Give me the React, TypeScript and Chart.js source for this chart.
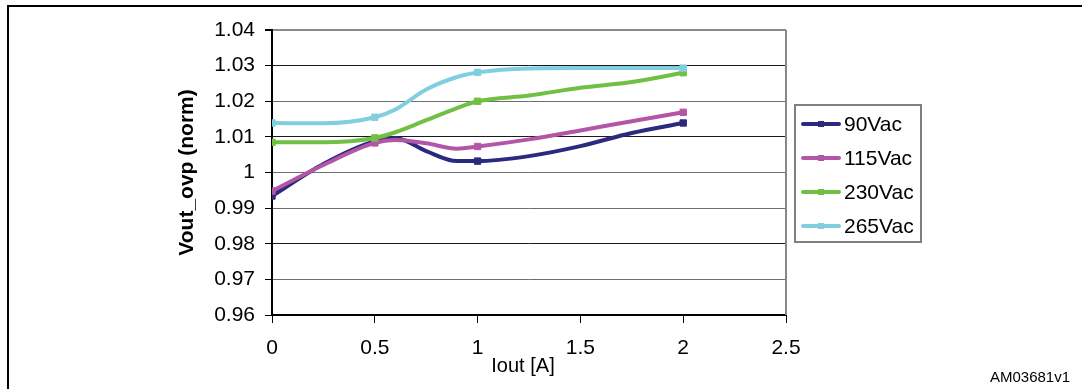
import { useEffect, useRef } from "react";
import { Chart, registerables } from "chart.js";

Chart.register(...registerables);

// ---- data ----
const currents = [0, 0.25, 0.5, 0.6, 0.75, 0.9, 1, 1.25, 1.5, 1.75, 2];
const markerCurrents = [0, 0.5, 1, 2];
const seriesNames = ["90Vac", "115Vac", "230Vac", "265Vac"];
const vac90 = [0.9934, 1.0024, 1.0088, 1.0097, 1.006, 1.0032, 1.0032, 1.0046, 1.0074, 1.0111, 1.0139];
const vac115 = [0.9948, 1.0021, 1.0083, 1.0091, 1.0082, 1.0067, 1.0073, 1.0093, 1.0118, 1.0144, 1.0169];
const vac230 = [1.0085, 1.0085, 1.0097, 1.0113, 1.0147, 1.0181, 1.02, 1.0216, 1.0238, 1.0254, 1.028];
const vac265 = [1.0139, 1.0138, 1.0155, 1.0177, 1.0233, 1.0268, 1.0281, 1.0292, 1.0293, 1.0293, 1.0293];
const seriesValues = [vac90, vac115, vac230, vac265];
const seriesColors = ["#2b2a7e", "#b456a8", "#72bf45", "#80cee0"];
const yMin = 0.96;
const yMax = 1.04;
const yStep = 0.01;
const xMin = 0;
const xMax = 2.5;
const xStep = 0.5;
const yTitle = "Vout_ovp (norm)";
const xTitle = "Iout [A]";
const figureId = "AM03681v1";

const FONT = "'Liberation Sans', Arial, Helvetica, sans-serif";

const darkGridValues = [1.03, 1.01, 0.98];

const extrasPlugin = {
  id: "extras",
  afterDraw(chart: any) {
    const { ctx, chartArea } = chart;
    ctx.save();
    // right border of plot
    ctx.strokeStyle = "#888888";
    ctx.lineWidth = 2;
    ctx.beginPath();
    ctx.moveTo(chartArea.right, chartArea.top);
    ctx.lineTo(chartArea.right, chartArea.bottom);
    ctx.stroke();

    // legend box
    const left = chartArea.right + 9;
    const top = chartArea.top + 75;
    const w = 126;
    const h = 137;
    ctx.strokeStyle = "#808080";
    ctx.lineWidth = 2;
    ctx.strokeRect(left, top, w, h);
    chart.data.datasets.forEach((ds: any, i: number) => {
      const y = top + 19 + i * 34;
      ctx.strokeStyle = ds.borderColor;
      ctx.lineWidth = 4;
      ctx.lineCap = "round";
      ctx.beginPath();
      ctx.moveTo(left + 8, y);
      ctx.lineTo(left + 44, y);
      ctx.stroke();
      ctx.fillStyle = ds.borderColor;
      ctx.fillRect(left + 23, y - 3, 6, 6);
      ctx.fillStyle = "#000";
      ctx.font = `21px ${FONT}`;
      ctx.textAlign = "left";
      ctx.textBaseline = "middle";
      ctx.fillText(ds.label, left + 49, y + 1);
    });

    // x axis title
    ctx.fillStyle = "#000";
    ctx.font = `20px ${FONT}`;
    ctx.textAlign = "center";
    ctx.textBaseline = "middle";
    ctx.fillText(xTitle, 523, 366);

    // figure id
    ctx.font = `15px ${FONT}`;
    ctx.textAlign = "right";
    ctx.fillText(figureId, 1070, 378);
    ctx.restore();
  },
};

export default function App() {
  const canvasRef = useRef<HTMLCanvasElement | null>(null);

  useEffect(() => {
    const canvas = canvasRef.current;
    if (!canvas) return;
    const datasets = seriesNames.map((name, i) => ({
      label: name,
      data: currents.map((x, j) => ({ x, y: seriesValues[i][j] })),
      borderColor: seriesColors[i],
      backgroundColor: seriesColors[i],
      borderWidth: 4,
      cubicInterpolationMode: "monotone" as const,
      pointStyle: "rect" as const,
      pointRadius: (c: any) => (c.raw && markerCurrents.includes(c.raw.x) ? 4.5 : 0),
      pointBorderWidth: 1,
      pointHoverRadius: 0,
      order: seriesNames.length - 1 - i,
    }));

    const chart = new Chart(canvas, {
      type: "line",
      data: { datasets },
      plugins: [extrasPlugin],
      options: {
        animation: false,
        responsive: false,
        events: [],
        layout: { padding: { left: 172, right: 296, top: 30, bottom: 12 } },
        plugins: {
          legend: { display: false },
          tooltip: { enabled: false },
          title: { display: false },
        },
        scales: {
          x: {
            type: "linear",
            min: xMin,
            max: xMax,
            afterFit: (s: any) => {
              s.height = 62;
            },
            ticks: {
              stepSize: xStep,
              padding: 13,
              color: "#000",
              font: { family: FONT, size: 21 },
              maxRotation: 0,
              callback: (v: any) => String(Number(Number(v).toFixed(2))),
            },
            grid: {
              drawOnChartArea: false,
              drawTicks: true,
              tickLength: 8,
              tickColor: "#000",
              color: "#000",
            },
            border: { color: "#000", width: 2 },
          },
          y: {
            type: "linear",
            min: yMin,
            max: yMax,
            afterFit: (s: any) => {
              s.width = 100;
            },
            ticks: {
              stepSize: yStep,
              padding: 10,
              color: "#000",
              font: { family: FONT, size: 21 },
              callback: (v: any) => String(Number(Number(v).toFixed(2))),
            },
            grid: {
              tickLength: 7,
              tickColor: "#000",
              color: (c: any) => {
                const v = Number(Number(c.tick?.value).toFixed(2));
                if (v === yMax) return "#8a8a8a";
                if (v === yMin) return "#000";
                return darkGridValues.includes(v) ? "#1a1a1a" : "#6e6e6e";
              },
              lineWidth: (c: any) => {
                const v = Number(Number(c.tick?.value).toFixed(2));
                return v === yMax ? 2 : 1;
              },
            },
            border: { color: "#000", width: 2 },
            title: {
              display: true,
              text: yTitle,
              color: "#000",
              font: { family: FONT, size: 21, weight: "bold" },
              padding: { top: 3, bottom: 4 },
            },
          },
        },
      },
    });
    return () => chart.destroy();
  }, []);

  return (
    <div style={{ position: "fixed", left: 0, top: 0, width: 1082, height: 389, background: "#fff", overflow: "hidden" }}>
      <div
        style={{
          position: "absolute",
          left: 7,
          top: 5,
          width: 1075,
          height: 384,
          borderLeft: "2px solid #000",
          borderTop: "2px solid #000",
          boxSizing: "border-box",
        }}
      />
      <canvas ref={canvasRef} width={1082} height={389} style={{ position: "absolute", left: 0, top: 0, display: "block" }} />
    </div>
  );
}
